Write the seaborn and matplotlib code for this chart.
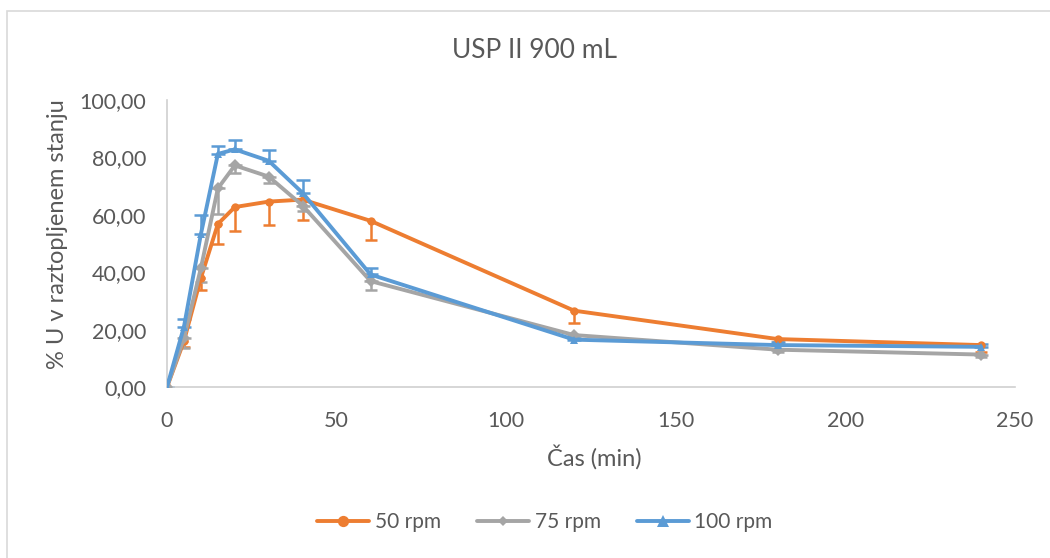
import numpy as np
import pandas as pd
import matplotlib
matplotlib.use("Agg")
import matplotlib.pyplot as plt
import seaborn as sns
from matplotlib.patches import Rectangle
from matplotlib.lines import Line2D
from matplotlib.ticker import FuncFormatter

time_min = [0, 5, 10, 15, 20, 30, 40, 60, 120, 180, 240]
rpm50 = [0, 16.0, 38.0, 56.8, 62.7, 64.6, 65.3, 57.9, 26.6, 16.7, 14.6]
rpm75 = [0, 17.0, 41.5, 69.2, 77.2, 73.3, 63.2, 36.9, 18.1, 13.0, 11.3]
rpm100 = [0, 21.0, 53.3, 81.2, 82.8, 78.8, 67.6, 39.2, 16.5, 14.6, 14.0]
err50_minus = [0, 2.0, 4.2, 6.8, 8.3, 8.3, 7.0, 6.7, 4.4, 1.0, 2.5]
err75_minus = [0, 3.5, 5.0, 9.0, 2.7, 2.3, 2.0, 3.0, 1.0, 0.8, 0.8]
err100_plus = [0, 2.6, 6.6, 2.9, 3.2, 3.8, 4.6, 2.2, 0.5, 1.0, 1.0]
series_names = ["50 rpm", "75 rpm", "100 rpm"]
colors = ["#ED7D31", "#A5A5A5", "#5B9BD5"]
markers = ["o", "D", "^"]
msizes = [9, 6, 9]

df = pd.DataFrame({
    "t": time_min * 3,
    "y": rpm50 + rpm75 + rpm100,
    "s": [series_names[0]] * 11 + [series_names[1]] * 11 + [series_names[2]] * 11,
})

sns.set_theme(style="white")
plt.rcParams["font.family"] = ["Lato", "DejaVu Sans"]
TXT = "#595959"
FS = 15.5

fig = plt.figure(figsize=(10.5, 5.58), dpi=100)
ax = fig.add_axes([167/1050, 1 - 387/558, (1015-167)/1050, (387-100)/558])

errs = [(err50_minus, "minus"), (err75_minus, "minus"), (err100_plus, "plus")]
vals = [rpm50, rpm75, rpm100]
for v, (e, d), c in zip(vals, errs, colors):
    z = np.zeros(len(e))
    yerr = [e, z] if d == "minus" else [z, e]
    ax.errorbar(time_min, v, yerr=yerr, fmt="none", ecolor=c, elinewidth=1.8,
                capsize=5, capthick=1.8, zorder=2)

sns.lineplot(data=df, x="t", y="y", hue="s", style="s", palette=colors,
             markers=dict(zip(series_names, markers)), dashes=False,
             linewidth=2.8, markeredgewidth=0, ax=ax, legend=False, zorder=3)
for line, ms in zip(ax.lines, msizes):
    line.set_markersize(ms)

ax.set_xlim(0, 250)
ax.set_ylim(0, 100)
ax.set_xticks(range(0, 251, 50))
ax.set_yticks(range(0, 101, 20))
ax.yaxis.set_major_formatter(FuncFormatter(lambda v, p: f"{v:.2f}".replace(".", ",")))
for sp in ["top", "right"]:
    ax.spines[sp].set_visible(False)
for sp in ["left", "bottom"]:
    ax.spines[sp].set_color("#D0D0D0")
    ax.spines[sp].set_linewidth(1.2)
ax.tick_params(axis="both", length=0, labelsize=FS, labelcolor=TXT)
ax.tick_params(axis="x", pad=17)
ax.tick_params(axis="y", pad=15)
ax.set_xlabel("")
ax.set_ylabel("")
ax.set_facecolor("white")

fig.text(534/1050, 1 - 50/558, "USP II 900 mL", ha="center", va="center",
         fontsize=19, color=TXT)
fig.text(594/1050, 1 - 457/558, "Čas (min)", ha="center", va="center",
         fontsize=17, color=TXT)
fig.text(57/1050, 1 - 234/558, "% U v raztopljenem stanju", ha="center", va="center",
         rotation=90, fontsize=17, color=TXT)

handles = [Line2D([0], [0], color=c, marker=m, markersize=ms * 0.9, linewidth=2.8,
                  markeredgewidth=0) for c, m, ms in zip(colors, markers, msizes)]
fig.legend(handles, series_names, loc="center", bbox_to_anchor=(545/1050, 1 - 522/558),
           ncol=3, frameon=False, fontsize=15, labelcolor=TXT,
           handlelength=2.5, handletextpad=0.25, columnspacing=1.75)

fig.patches.append(Rectangle((7/1050, -0.05), 1.1, 1 - 11/558 + 0.05,
                             transform=fig.transFigure, fill=False,
                             edgecolor="#D9D9D9", linewidth=1.2))

fig.savefig("out.png", dpi=100, facecolor="white")
